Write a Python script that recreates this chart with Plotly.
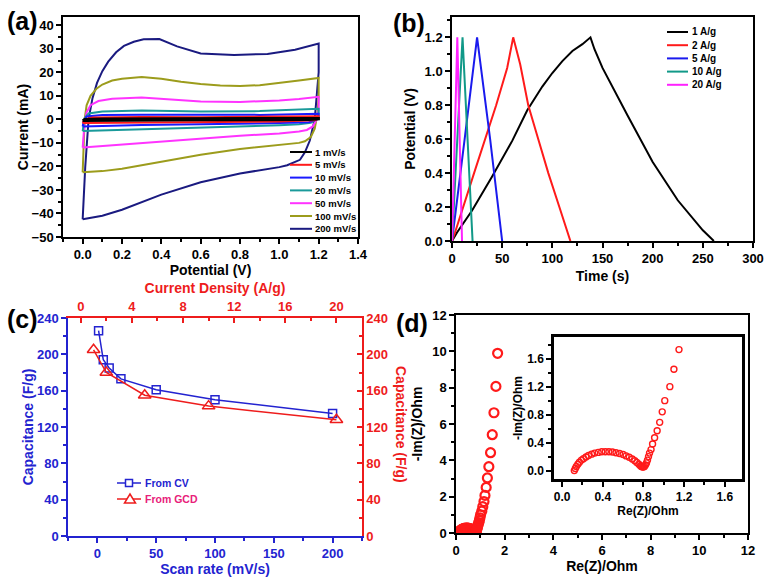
import plotly.graph_objects as go

# ---------------- DATA ----------------
# (a) CV loops: potential (V) and current (mA)
cv_labels = ["1 mV/s", "5 mV/s", "10 mV/s", "20 mV/s", "50 mV/s", "100 mV/s", "200 mV/s"]
cv1_v = [0.00, 0.01, 0.10, 0.60, 1.20, 1.20, 1.15, 0.60, 0.00]
cv1_i = [-0.6, 0.1, 0.3, 0.3, 0.5, 0.1, -0.2, -0.3, -0.6]
cv5_v = [0.00, 0.01, 0.05, 0.30, 0.60, 0.90, 1.20, 1.20, 1.18, 1.00, 0.60, 0.30, 0.00]
cv5_i = [-1.5, 0.0, 0.8, 1.0, 0.9, 1.0, 1.3, 0.4, -0.4, -0.9, -1.1, -1.3, -1.5]
cv10_v = [0.00, 0.005, 0.02, 0.10, 0.30, 0.60, 0.90, 1.20, 1.20, 1.19, 1.15, 1.00, 0.60, 0.30, 0.00]
cv10_i = [-3.0, -1.0, 1.2, 1.8, 2.0, 1.8, 1.9, 2.4, 1.0, 0.0, -1.2, -1.6, -2.0, -2.4, -3.0]
cv20_v = [0.00, 0.005, 0.01, 0.03, 0.10, 0.30, 0.60, 0.90, 1.20, 1.20, 1.19, 1.16, 1.10, 1.00, 0.60, 0.30, 0.10, 0.00]
cv20_i = [-5.0, -2.0, 0.5, 2.5, 3.3, 3.8, 3.3, 3.5, 4.5, 2.0, 0.0, -1.5, -2.1, -2.5, -3.5, -4.2, -4.8, -5.0]
cv50_v = [0.00, 0.005, 0.01, 0.02, 0.04, 0.08, 0.15, 0.30, 0.45, 0.60, 0.80, 1.00, 1.10, 1.20,
          1.20, 1.19, 1.17, 1.14, 1.10, 1.00, 0.80, 0.60, 0.40, 0.20, 0.05, 0.00]
cv50_i = [-12.0, -6.0, -1.0, 3.0, 6.0, 7.8, 8.8, 9.3, 8.5, 7.6, 7.4, 8.0, 8.7, 9.6,
          4.0, 0.0, -3.0, -4.5, -5.2, -6.0, -7.0, -8.3, -9.6, -10.8, -11.7, -12.0]
cv100_v = [0.00, 0.003, 0.01, 0.02, 0.04, 0.07, 0.10, 0.15, 0.20, 0.30, 0.40, 0.50, 0.60, 0.70, 0.80, 0.90, 1.00, 1.10, 1.20,
           1.20, 1.195, 1.19, 1.18, 1.16, 1.13, 1.10, 1.00, 0.80, 0.60, 0.40, 0.20, 0.10, 0.03, 0.00]
cv100_i = [-22.5, -12.0, 0.0, 6.0, 10.0, 13.0, 14.8, 16.5, 17.3, 18.0, 17.3, 16.0, 15.0, 14.4, 14.2, 14.5, 15.4, 16.5, 17.6,
           10.0, 3.0, 0.0, -4.0, -7.5, -9.3, -10.0, -10.8, -12.6, -15.0, -18.0, -21.0, -22.0, -22.5, -22.5]
cv200_v = [0.00, 0.005, 0.013, 0.03, 0.05, 0.073, 0.10, 0.13, 0.17, 0.21, 0.26, 0.31, 0.39, 0.48, 0.60, 0.77, 0.94, 1.08, 1.20,
           1.20, 1.19, 1.18, 1.155, 1.13, 1.105, 1.04, 1.00, 0.80, 0.60, 0.40, 0.20, 0.10, 0.00]
cv200_i = [-42.5, -32.0, -20.4, 0.0, 9.0, 15.5, 20.5, 24.5, 28.5, 31.2, 33.0, 34.0, 34.1, 31.0, 28.0, 27.4, 27.8, 29.6, 32.2,
           20.0, 8.0, 0.0, -9.0, -14.0, -17.2, -19.5, -20.3, -23.0, -26.7, -32.0, -38.4, -41.0, -42.5]
cv_v = [cv1_v, cv5_v, cv10_v, cv20_v, cv50_v, cv100_v, cv200_v]
cv_i = [cv1_i, cv5_i, cv10_i, cv20_i, cv50_i, cv100_i, cv200_i]

# (b) GCD curves: time (s) and potential (V)
gcd_labels = ["1 A/g", "2 A/g", "5 A/g", "10 A/g", "20 A/g"]
gcd1_t = [0, 5, 20, 40, 60, 75, 90, 100, 110, 120, 130, 138, 142, 150, 175, 200, 225, 250, 261]
gcd1_v = [0.0, 0.05, 0.18, 0.38, 0.59, 0.77, 0.91, 0.99, 1.06, 1.12, 1.16, 1.20, 1.13, 1.02, 0.74, 0.465, 0.24, 0.063, 0.0]
gcd2_t = [0, 3, 22, 44, 55, 61, 68, 76, 86, 96, 107, 118]
gcd2_v = [0.0, 0.05, 0.40, 0.80, 1.02, 1.20, 1.04, 0.80, 0.60, 0.40, 0.20, 0.0]
gcd5_t = [0, 1, 13, 25, 38, 50]
gcd5_v = [0.0, 0.05, 0.62, 1.20, 0.60, 0.0]
gcd10_t = [0, 0.5, 10.5, 20.5]
gcd10_v = [0.0, 0.05, 1.20, 0.0]
gcd20_t = [0, 0.3, 5.3, 10]
gcd20_v = [0.0, 0.05, 1.20, 0.0]
gcd_t = [gcd1_t, gcd2_t, gcd5_t, gcd10_t, gcd20_t]
gcd_v = [gcd1_v, gcd2_v, gcd5_v, gcd10_v, gcd20_v]

# (c) specific capacitance
scan_rate = [1, 5, 10, 20, 50, 100, 200]
cap_cv = [226, 194, 185, 173, 161, 150, 135]
current_density = [1, 2, 5, 10, 20]
cap_gcd = [205, 180, 155, 143, 128]
cap_labels = ["From CV", "From GCD"]

# (d) Nyquist plot
re_z = [0.12, 0.13, 0.14, 0.155, 0.17, 0.19, 0.21, 0.235, 0.26, 0.29, 0.32, 0.355, 0.39, 0.425, 0.46, 0.495,
        0.53, 0.565, 0.60, 0.63, 0.66, 0.69, 0.715, 0.735, 0.755, 0.77, 0.78, 0.79, 0.80, 0.81, 0.82, 0.83,
        0.84, 0.85, 0.86, 0.875, 0.89, 0.91, 0.935, 0.96, 0.985, 1.01, 1.06, 1.10, 1.15, 1.19, 1.24, 1.29,
        1.35, 1.42, 1.49, 1.56, 1.64, 1.71]
im_z = [0.00, 0.03, 0.06, 0.09, 0.12, 0.15, 0.17, 0.195, 0.215, 0.235, 0.25, 0.26, 0.27, 0.27, 0.27, 0.265,
        0.255, 0.245, 0.23, 0.21, 0.19, 0.165, 0.14, 0.115, 0.09, 0.07, 0.06, 0.05, 0.05, 0.06, 0.08, 0.11,
        0.15, 0.20, 0.25, 0.30, 0.38, 0.47, 0.57, 0.69, 0.84, 1.00, 1.20, 1.45, 1.73, 2.07, 2.51, 3.03,
        3.65, 4.42, 5.41, 6.62, 8.07, 9.89]

# ---------------- STYLE / LAYOUT ----------------
W, H = 767, 583
FONT = "Arial, Liberation Sans, sans-serif"
BLUE_C = "#2323d0"
RED_C = "#ee1c1c"
cv_colors = ["#000000", "#ff1a1a", "#1a1aff", "#1a9a9a", "#ff33ff", "#9c9c1c", "#1a1a80"]
gcd_colors = ["#000000", "#ff1a1a", "#1a1aee", "#119988", "#ff22ff"]


def fx(px):
    return px / W


def fy(py):
    return 1 - py / H


def axis(dom, rng, dtick, minor, color="black", fmt=None, mirror=True, ticks="outside",
         title=None, tsize=14, standoff=None, tfs=13, lw=1.5, **kw):
    d = dict(domain=dom, range=rng, dtick=dtick, tick0=0, showline=True, linecolor=color,
             linewidth=lw, mirror=mirror, ticks=ticks, ticklen=5, tickwidth=1.5, tickcolor=color,
             minor=dict(dtick=minor, ticks=ticks, ticklen=3, tickwidth=1.5, tickcolor=color),
             showgrid=False, zeroline=False, automargin=False,
             tickfont=dict(family=FONT, size=tfs, color=color, weight="bold"))
    if fmt:
        d["tickformat"] = fmt
    if title:
        d["title"] = dict(text=title, font=dict(family=FONT, size=tsize, color=color, weight="bold"))
        if standoff is not None:
            d["title"]["standoff"] = standoff
    d.update(kw)
    return d


def note(text, xpx, ypx, size, color="black", xanchor="center", **kw):
    return dict(text=text, x=fx(xpx), y=fy(ypx), xref="paper", yref="paper", xanchor=xanchor,
                yanchor="middle", showarrow=False,
                font=dict(family=FONT, size=size, color=color, weight="bold"), **kw)


fig = go.Figure()

# (a)
for k in range(len(cv_labels) - 1, -1, -1):
    fig.add_trace(go.Scatter(x=cv_v[k], y=cv_i[k], mode="lines", name=cv_labels[k],
                             line=dict(color=cv_colors[k], width=2 if k else 2.5),
                             xaxis="x", yaxis="y", showlegend=False))
# (b)
for k in range(len(gcd_labels)):
    fig.add_trace(go.Scatter(x=gcd_t[k], y=gcd_v[k], mode="lines", name=gcd_labels[k],
                             line=dict(color=gcd_colors[k], width=2),
                             xaxis="x2", yaxis="y2", showlegend=False))
# (c)
fig.add_trace(go.Scatter(x=scan_rate, y=cap_cv, mode="lines+markers", name=cap_labels[0],
                         line=dict(color=BLUE_C, width=1.5),
                         marker=dict(symbol="square-open", size=8, color=BLUE_C, line=dict(width=1.5)),
                         xaxis="x3", yaxis="y3", showlegend=False))
fig.add_trace(go.Scatter(x=current_density, y=cap_gcd, mode="lines+markers", name=cap_labels[1],
                         line=dict(color=RED_C, width=1.5),
                         marker=dict(symbol="triangle-up-open", size=11, color=RED_C, line=dict(width=1.5)),
                         xaxis="x4", yaxis="y4", showlegend=False))
# (d)
fig.add_trace(go.Scatter(x=re_z, y=im_z, mode="markers", name="EIS",
                         marker=dict(symbol="circle-open", size=9, color="#ff1a1a", line=dict(width=2.2)),
                         xaxis="x5", yaxis="y5", showlegend=False))
fig.add_trace(go.Scatter(x=re_z, y=im_z, mode="markers", name="EIS inset",
                         marker=dict(symbol="circle-open", size=6, color="#ff1a1a", line=dict(width=1.4)),
                         xaxis="x6", yaxis="y6", showlegend=False))

layout = dict(
    width=W, height=H, margin=dict(l=0, r=0, t=0, b=0, autoexpand=False),
    paper_bgcolor="white", plot_bgcolor="rgba(0,0,0,0)",
    font=dict(family=FONT, size=13, color="black", weight="bold"),
    showlegend=False,
    xaxis=axis([fx(63), fx(358)], [-0.1, 1.4], 0.2, 0.1, fmt=".1f", anchor="y",
               title="Potential (V)", standoff=3),
    yaxis=axis([fy(237), fy(17)], [-50, 43.5], 10, 5, anchor="x", title="Current (mA)", standoff=0),
    xaxis2=axis([fx(452), fx(753)], [0, 300], 50, 25, anchor="y2", title="Time (s)", standoff=6),
    yaxis2=axis([fy(241), fy(17)], [0, 1.32], 0.2, 0.1, fmt=".1f", anchor="x2",
                title="Potential (V)", standoff=6),
    xaxis3=axis([fx(68), fx(362)], [-25, 225], 50, 25, color=BLUE_C, mirror=False, anchor="y3",
                title="Scan rate (mV/s)", standoff=0),
    yaxis3=axis([fy(536), fy(318)], [0, 240], 40, 20, color=BLUE_C, mirror=False, anchor="x3",
                title="Capacitance (F/g)", standoff=0),
    xaxis4=axis([fx(68), fx(362)], [-1, 22], 4, 2, color=RED_C, mirror=False, ticks="inside",
                anchor="y3", overlaying="x3", side="top", title="Current Density (A/g)", standoff=2),
    yaxis4=axis([fy(536), fy(318)], [0, 240], 40, 20, color=RED_C, mirror=False, ticks="inside",
                anchor="x3", overlaying="y3", side="right"),
    xaxis5=axis([fx(456), fx(748)], [0, 12], 2, 1, anchor="y5", title="Re(Z)/Ohm", standoff=4),
    yaxis5=axis([fy(533), fy(315)], [0, 12], 2, 1, anchor="x5", title="-Im(Z)/Ohm", standoff=6),
    xaxis6=axis([fx(554), fx(742)], [-0.08, 1.77], 0.4, 0.2, fmt=".1f", anchor="y6", lw=2.5,
                title="Re(Z)/Ohm", tsize=12, tfs=12, standoff=0),
    yaxis6=axis([fy(479), fy(337)], [-0.12, 1.91], 0.4, 0.2, fmt=".1f", anchor="x6", lw=2.5,
                title="-Im(Z)/Ohm", tsize=12, tfs=12, standoff=2),
)
fig.update_layout(**layout)

shapes = []
annotations = []

# panel labels
for lab, cx, cy in [("(a)", 22, 21), ("(b)", 409, 23), ("(c)", 22, 319), ("(d)", 412, 323)]:
    annotations.append(note(lab, cx, cy, 25))

# right axis title of (c), reading top-to-bottom
annotations.append(note("Capacitance (F/g)", 401, 424, 14, color=RED_C, textangle=90))

# legend (a)
for k, lab in enumerate(cv_labels):
    ypx = 152 + k * 12.8
    shapes.append(dict(type="line", xref="paper", yref="paper", x0=fx(290), x1=fx(312),
                       y0=fy(ypx), y1=fy(ypx), line=dict(color=cv_colors[k], width=2)))
    annotations.append(note(lab, 313, ypx, 9.5, xanchor="left"))
# legend (b)
for k, lab in enumerate(gcd_labels):
    ypx = 32 + k * 13.2
    shapes.append(dict(type="line", xref="paper", yref="paper", x0=fx(667), x1=fx(688),
                       y0=fy(ypx), y1=fy(ypx), line=dict(color=gcd_colors[k], width=2)))
    annotations.append(note(lab, 690, ypx, 10, xanchor="left"))
# legend (c)
leg_c_colors = [BLUE_C, RED_C]
leg_c_text = [BLUE_C, "#e8207a"]
for k, lab in enumerate(cap_labels):
    ypx = 483 + k * 16
    shapes.append(dict(type="line", xref="paper", yref="paper", x0=fx(117), x1=fx(141),
                       y0=fy(ypx), y1=fy(ypx), line=dict(color=leg_c_colors[k], width=1.5)))
    if k == 0:
        shapes.append(dict(type="rect", xref="paper", yref="paper", x0=fx(125.5), x1=fx(132.5),
                           y0=fy(ypx + 3.5), y1=fy(ypx - 3.5), fillcolor="white",
                           line=dict(color=leg_c_colors[k], width=1.5)))
    else:
        path = "M {} {} L {} {} L {} {} Z".format(fx(124.5), fy(ypx + 4), fx(135.5), fy(ypx + 4),
                                                  fx(130), fy(ypx - 5))
        shapes.append(dict(type="path", xref="paper", yref="paper", path=path, fillcolor="white",
                           line=dict(color=leg_c_colors[k], width=1.5)))
    annotations.append(note(lab, 143, ypx, 10.5, color=leg_c_text[k], xanchor="left"))

fig.update_layout(shapes=shapes, annotations=annotations)

fig.write_html("out.html", config={"displayModeBar": False},
               post_script="document.body.style.margin='0';document.body.style.overflow='hidden';")
